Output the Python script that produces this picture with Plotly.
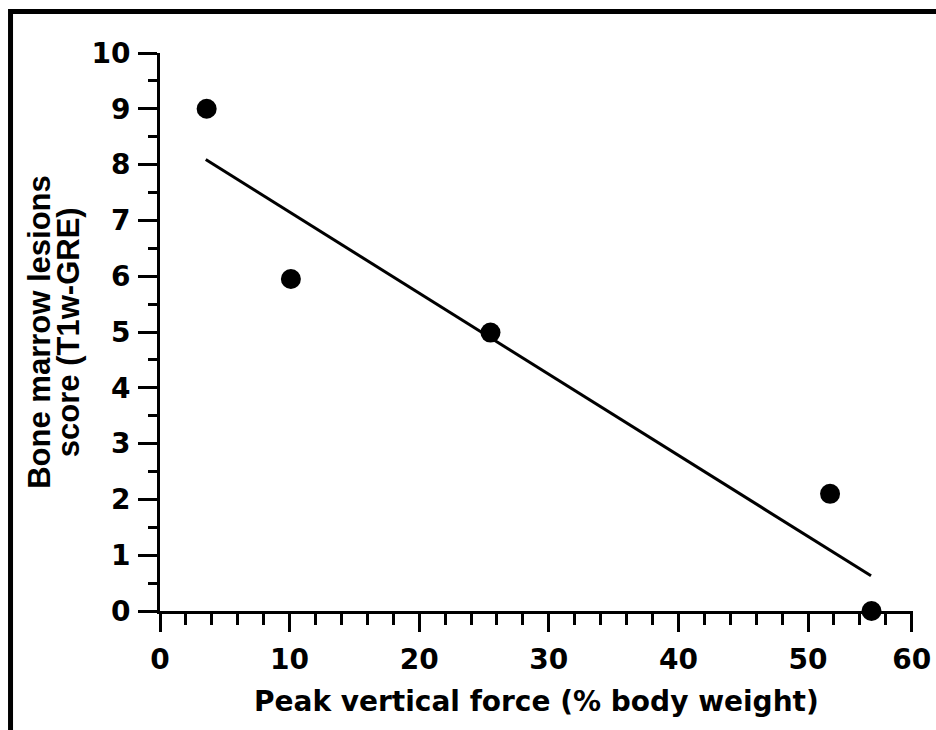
import plotly.graph_objects as go

# Peak vertical force (% body weight) vs. bone marrow lesion score
force_pct = [3.6, 10.1, 25.5, 51.7, 54.9]
bml_score = [9.0, 5.95, 4.99, 2.1, 0.0]

# Least-squares fit line, endpoints
fit_x = [3.53, 54.86]
fit_y = [8.09, 0.63]

x_tick_vals = [0, 10, 20, 30, 40, 50, 58]
x_tick_text = ["0", "10", "20", "30", "40", "50", "60"]
y_tick_vals = [0, 1, 2, 3, 4, 5, 6, 7, 8, 9, 10]

WIDE = "DejaVu Sans, sans-serif"
NARROW = "Liberation Sans, Arial, sans-serif"

fig = go.Figure()

fig.add_trace(go.Scatter(
    x=fit_x, y=fit_y, mode="lines",
    line=dict(color="black", width=3),
    cliponaxis=False, showlegend=False,
))
fig.add_trace(go.Scatter(
    x=force_pct, y=bml_score, mode="markers",
    marker=dict(color="black", size=20, line=dict(width=0)),
    cliponaxis=False, showlegend=False,
))

axis_common = dict(
    showgrid=False, zeroline=False, automargin=False,
    showline=True, linecolor="black", linewidth=3,
    ticks="outside", tickcolor="black", tickwidth=3,
    tickfont=dict(family=WIDE, size=28, color="black", weight="bold"),
)

fig.update_xaxes(
    range=[0, 58.1],
    tickmode="array", tickvals=x_tick_vals, ticktext=x_tick_text,
    ticklen=18, ticklabelstandoff=3,
    minor=dict(dtick=2, tick0=0, ticks="outside", ticklen=11,
               tickwidth=3, tickcolor="black"),
    **axis_common,
)
fig.update_yaxes(
    range=[0, 10],
    tickmode="array", tickvals=y_tick_vals,
    ticklen=19, ticklabelstandoff=2,
    minor=dict(dtick=0.5, tick0=0, ticks="outside", ticklen=9,
               tickwidth=3, tickcolor="black"),
    **axis_common,
)

x_title_font = dict(family=WIDE, size=28, color="black", weight="bold")
y_title_font = dict(family=NARROW, size=31, color="black", weight="bold")

fig.update_layout(
    width=936, height=730,
    margin=dict(l=160, r=23, t=53, b=119, autoexpand=False),
    paper_bgcolor="white", plot_bgcolor="white",
    annotations=[
        dict(text="Peak vertical force (% body weight)",
             xref="paper", yref="paper", x=0.5, y=-0.163,
             xanchor="center", yanchor="middle",
             showarrow=False, font=x_title_font),
        dict(text="Bone marrow lesions",
             xref="paper", yref="paper", x=-0.161, y=0.5,
             xanchor="center", yanchor="middle", textangle=-90,
             showarrow=False, font=y_title_font),
        dict(text="score (T1w-GRE)",
             xref="paper", yref="paper", x=-0.122, y=0.5,
             xanchor="center", yanchor="middle", textangle=-90,
             showarrow=False, font=y_title_font),
    ],
    shapes=[
        dict(type="line", xref="paper", yref="paper",
             x0=-0.2, x1=1.04, y0=1.0744, y1=1.0744,
             line=dict(color="black", width=5)),
        dict(type="line", xref="paper", yref="paper",
             x0=-0.1985, x1=-0.1985, y0=1.079, y1=-0.23,
             line=dict(color="black", width=5)),
    ],
)

fig.write_html("out.html")
